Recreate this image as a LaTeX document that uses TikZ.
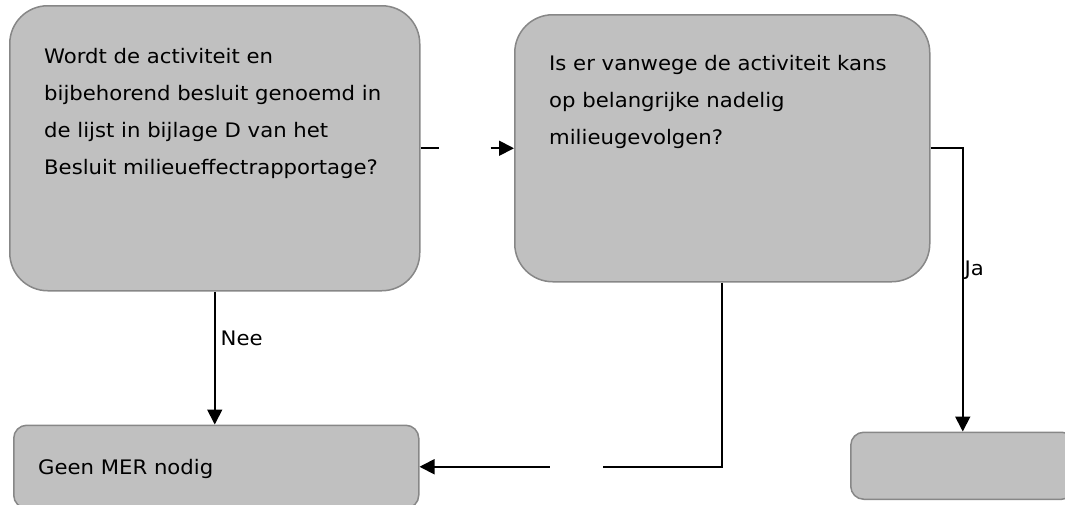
\documentclass[tikz,border=0pt]{standalone}
\usepackage{fontspec}
\setmainfont{DejaVu Sans}[FakeStretch=1.06]
\usetikzlibrary{arrows.meta,positioning}
\definecolor{boxfill}{HTML}{C0C0C0}
\definecolor{boxline}{HTML}{878787}
\tikzset{
  qbox/.style={draw=boxline, fill=boxfill, line width=1.5pt, rounded corners=38pt, anchor=north west, inner sep=0pt},
  abox/.style={qbox, rounded corners=13pt},
  qtext/.style={font=\fontsize{20}{37}\selectfont, align=left, inner sep=0pt, text=black},
  lbl/.style={font=\fontsize{20}{24}\selectfont, inner sep=0pt},
  arrow/.style={-{Triangle[length=15pt,width=15pt]}, line width=1.8pt, draw=black},
  link/.style={line width=1.8pt, draw=black}
}
\begin{document}
\begin{tikzpicture}[x=1pt, y=-1pt]
\useasboundingbox (0,0) rectangle (1065,504);
\clip (0,0) rectangle (1065,504);
% vragen
\node[qbox, minimum width=410pt, minimum height=285pt] (q1) at (9,5) {};
\node[qtext, below right=42.8pt and 35pt of q1.north west] (q1t) {Wordt de activiteit en\\bijbehorend besluit genoemd in\\de lijst in bijlage D van het\\Besluit milieueffectrapportage?};
\node[qbox, minimum width=415pt, minimum height=267pt] (q2) at (514,14) {};
\node[qtext, below right=41.5pt and 35pt of q2.north west] (q2t) {Is er vanwege de activiteit kans\\op belangrijke nadelig\\milieugevolgen?};
% uitkomsten
\node[abox, minimum width=405pt, minimum height=83pt] (geen) at (13,424.5) {};
\node[qtext, below right=34.8pt and 25pt of geen.north west] (geent) {Geen MER nodig};
\node[abox, minimum width=224pt, minimum height=67pt] (vervolg) at (850,431.5) {};
% onderbroken lijnen
\path (q1.east) ++(18,0) coordinate (cutA) ++(52,0) coordinate (cutB);
\path (geen.east) ++(130,0) coordinate (cutD) ++(53,0) coordinate (cutC);
\draw[link] (q1.east) -- (cutA);
\draw[arrow] (cutB) -- (q2.west);
\draw[arrow] (q1.south) -- node[lbl, pos=0.354, right=5pt]{Nee} (q1.south |- geen.north);
\draw[link] (q2.south) |- (cutC);
\draw[arrow] (cutD) -- (geen.east);
\draw[arrow] (q2.east) -| node[lbl, pos=0.715, right=1pt]{Ja} (vervolg.north);
\end{tikzpicture}
\end{document}
